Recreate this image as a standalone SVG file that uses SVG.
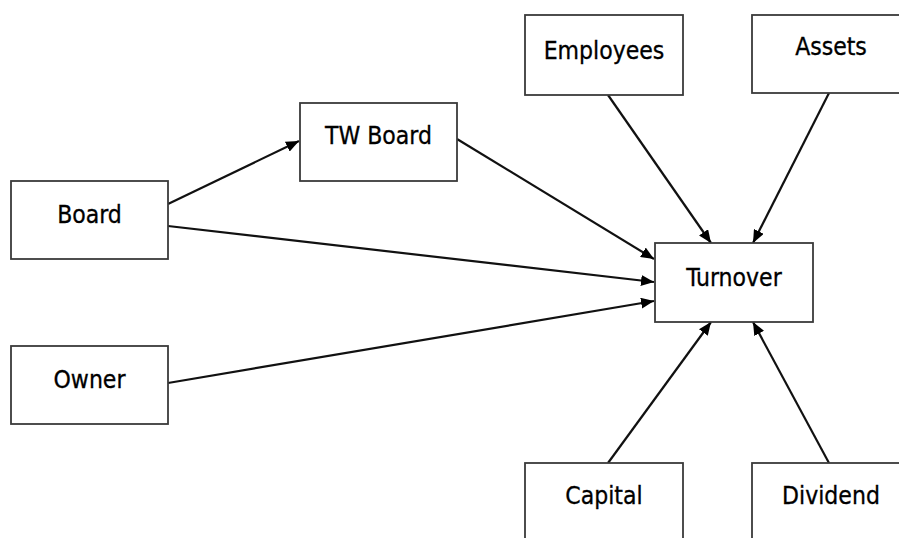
<svg xmlns="http://www.w3.org/2000/svg" width="899" height="538" viewBox="0 0 899 538">
<style>
.box{fill:#fff;stroke:#3a3a3a;stroke-width:1.8}
.lbl{font-family:"DejaVu Sans Condensed","Liberation Sans",sans-serif;font-size:24.5px;fill:#000;text-anchor:middle;stroke:#000;stroke-width:0.3}
.edge{stroke:#111;stroke-width:2.2;fill:none;marker-end:url(#ah)}
</style>
<defs>
<marker id="ah" markerUnits="userSpaceOnUse" markerWidth="13" markerHeight="11" refX="13" refY="5.5" orient="auto">
<path d="M0,0 L13,5.5 L0,11 z" fill="#000"/>
</marker>
</defs>
<rect width="899" height="538" fill="#fff"/>
<g id="connectors">
<line class="edge" x1="168" y1="204" x2="299" y2="141"/>
<line class="edge" x1="168" y1="226" x2="654" y2="282"/>
<line class="edge" x1="168" y1="383" x2="654" y2="301"/>
<line class="edge" x1="457" y1="139" x2="654" y2="259"/>
<line class="edge" x1="608" y1="95" x2="711" y2="243"/>
<line class="edge" x1="829" y1="93" x2="753" y2="243"/>
<line class="edge" x1="608" y1="463" x2="711" y2="322"/>
<line class="edge" x1="829" y1="463" x2="753" y2="322"/>
</g>
<g id="board"><rect class="box" x="11" y="181" width="157" height="78"/><text class="lbl" x="89.5" y="223">Board</text></g>
<g id="owner"><rect class="box" x="11" y="346" width="157" height="78"/><text class="lbl" x="89.5" y="388">Owner</text></g>
<g id="twboard"><rect class="box" x="300" y="103" width="157" height="78"/><text class="lbl" x="378.5" y="144">TW Board</text></g>
<g id="employees"><rect class="box" x="525" y="15" width="158" height="80"/><text class="lbl" x="604" y="59">Employees</text></g>
<g id="assets"><rect class="box" x="752" y="15" width="158" height="78"/><text class="lbl" x="831" y="55">Assets</text></g>
<g id="turnover"><rect class="box" x="655" y="243" width="158" height="79"/><text class="lbl" x="734" y="286">Turnover</text></g>
<g id="capital"><rect class="box" x="525" y="463" width="158" height="90"/><text class="lbl" x="604" y="504">Capital</text></g>
<g id="dividend"><rect class="box" x="752" y="463" width="158" height="90"/><text class="lbl" x="831" y="504">Dividend</text></g>
</svg>
